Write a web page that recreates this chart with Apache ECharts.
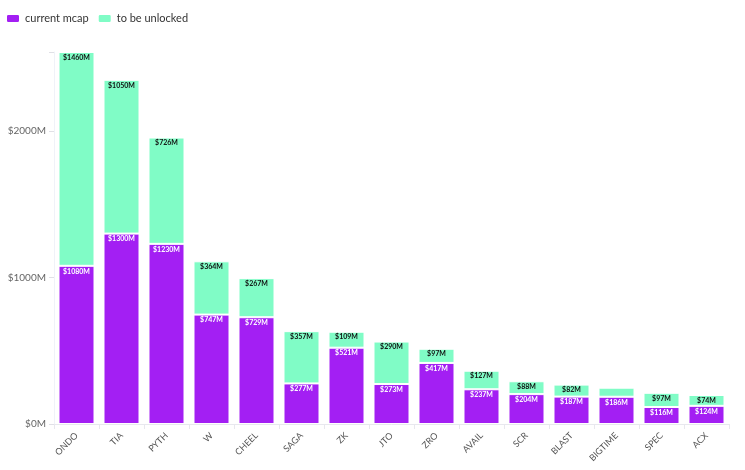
<!DOCTYPE html>
<html><head><meta charset="utf-8">
<script src="https://cdn.jsdelivr.net/npm/echarts@6/dist/echarts.min.js"></script>
<style>html,body{margin:0;padding:0;background:#fff}#c{width:745px;height:470px}</style>
</head><body><div id="c"></div>
<script>
const categories = ['ONDO','TIA','PYTH','W','CHEEL','SAGA','ZK','JTO','ZRO','AVAIL','SCR','BLAST','BIGTIME','SPEC','ACX'];
const currentMcap = [1080,1300,1230,747,729,277,521,273,417,237,204,187,186,116,124];
const toBeUnlocked = [1460,1050,726,364,267,357,109,290,97,127,88,82,62,97,74];
const yTicks = [0,1000,2000];

const chart = echarts.init(document.getElementById('c'));
const font = 'Lato, "Open Sans", sans-serif';
chart.setOption({
  animation:false,
  textStyle:{fontFamily:font},
  legend:{left:0,top:8,itemWidth:14,itemHeight:9,itemGap:8,icon:'roundRect',
    textStyle:{fontSize:11,color:'#333',fontFamily:font},
    data:['current mcap','to be unlocked']},
  grid:{left:54,right:16,top:52,bottom:46},
  xAxis:{type:'category',data:categories,
    axisLine:{lineStyle:{color:'#e8e8ee'}},
    axisTick:{show:true,lineStyle:{color:'#e8e8ee'}},
    axisLabel:{rotate:45,fontSize:9,color:'#555',margin:10,fontFamily:font}},
  yAxis:{type:'value',min:0,max:'dataMax',interval:1000,
    axisLine:{show:true,lineStyle:{color:'#f0f2f8'}},
    axisTick:{show:true,length:5,lineStyle:{color:'#e0e0e6'}},
    splitLine:{show:false},
    axisLabel:{fontSize:10,color:'#666',fontFamily:font,formatter:v=>yTicks.includes(v)?'$'+v+'M':''}},
  series:[
    {name:'current mcap',type:'bar',stack:'t',barWidth:'80%',data:currentMcap,
     itemStyle:{color:'#a31ff3',borderColor:'#fff',borderWidth:1},
     label:{show:true,position:'insideTop',distance:2,fontSize:7,fontWeight:'bold',color:'#fff',formatter:p=>'$'+p.value+'M'}},
    {name:'to be unlocked',type:'bar',stack:'t',barWidth:'80%',
     data:toBeUnlocked.map((v,i)=>categories[i]==='BIGTIME'?{value:v,label:{show:false}}:v),
     itemStyle:{color:'#80fcc6',borderColor:'#fff',borderWidth:1},
     label:{show:true,position:'insideTop',distance:2,fontSize:7,fontWeight:'bold',color:'#111',formatter:p=>'$'+p.value+'M'}}
  ]
});
</script></body></html>
